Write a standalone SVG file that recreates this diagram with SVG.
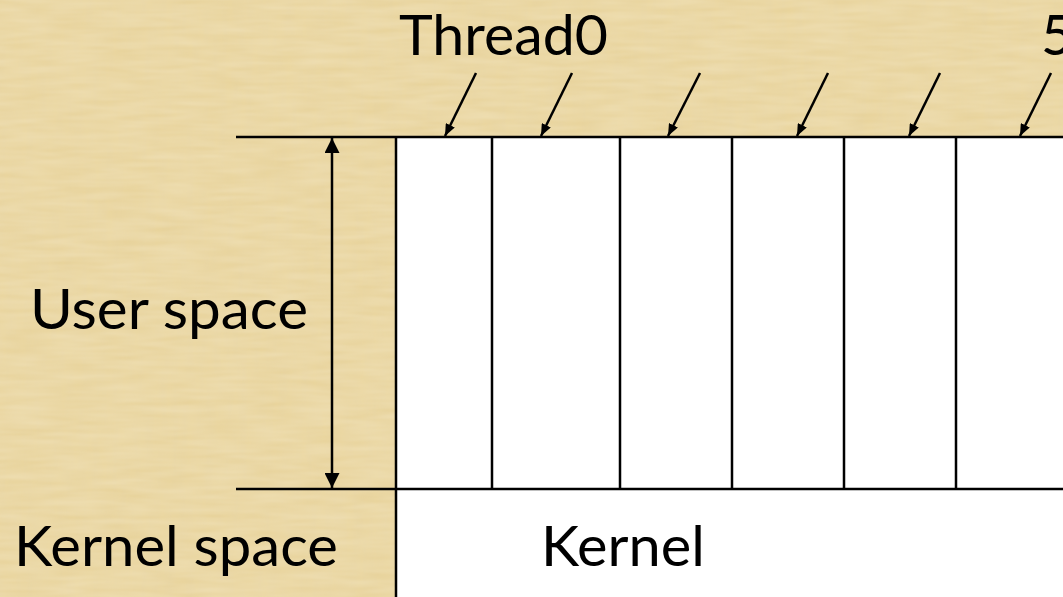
<svg xmlns="http://www.w3.org/2000/svg" width="1063" height="597" viewBox="0 0 1063 597">
<style>
.t{font-family:Lato,"Open Sans","Liberation Sans",sans-serif;font-size:56px;fill:#000}
.ln{stroke:#000;stroke-width:2.5;fill:none}
.ar{stroke:#000;stroke-width:2.5;fill:none;marker-end:url(#ah)}
</style>
<defs>
<marker id="ah" viewBox="0 0 12 10" refX="12" refY="5" markerWidth="12" markerHeight="10" markerUnits="userSpaceOnUse" orient="auto-start-reverse">
<path d="M0,0 L12,5 L0,10 Z" fill="#000"/>
</marker>
<marker id="ah2" viewBox="0 0 15 15" refX="15" refY="7.5" markerWidth="15" markerHeight="15" markerUnits="userSpaceOnUse" orient="auto-start-reverse">
<path d="M0,0 L15,7.5 L0,15 Z" fill="#000"/>
</marker>
<filter id="tex" x="0" y="0" width="100%" height="100%">
<feTurbulence type="fractalNoise" baseFrequency="0.15 0.02" numOctaves="2" seed="3" result="n1"/>
<feColorMatrix in="n1" type="matrix" values="0 0 0 0 0.75  0 0 0 0 0.62  0 0 0 0 0.35  0 0 0 0.35 -0.05" result="c1"/>
<feTurbulence type="fractalNoise" baseFrequency="0.02 0.15" numOctaves="2" seed="7" result="n2"/>
<feColorMatrix in="n2" type="matrix" values="0 0 0 0 0.98  0 0 0 0 0.92  0 0 0 0 0.75  0 0 0 0.35 -0.05" result="c2"/>
<feMerge><feMergeNode in="c1"/><feMergeNode in="c2"/></feMerge>
</filter>
</defs>
<g id="background">
<rect x="0" y="0" width="1063" height="597" fill="#E9D49C"/>
<rect x="0" y="0" width="1063" height="597" filter="url(#tex)"/>
</g>
<g id="user-area">
<rect x="396" y="137" width="667" height="352" fill="#fff"/>
</g>
<g id="kernel">
<rect x="396" y="489" width="667" height="108" fill="#fff"/>
<text class="t" x="541" y="566" textLength="164" lengthAdjust="spacingAndGlyphs">Kernel</text>
</g>
<g id="threads">
<line class="ln" x1="492" y1="137" x2="492" y2="489"/>
<line class="ln" x1="620" y1="137" x2="620" y2="489"/>
<line class="ln" x1="732" y1="137" x2="732" y2="489"/>
<line class="ln" x1="844" y1="137" x2="844" y2="489"/>
<line class="ln" x1="956" y1="137" x2="956" y2="489"/>
</g>
<g id="frame">
<line class="ln" x1="236" y1="137" x2="1063" y2="137"/>
<line class="ln" x1="236" y1="489" x2="1063" y2="489"/>
<line class="ln" x1="396" y1="137" x2="396" y2="597"/>
</g>
<g id="labels">
<text class="t" x="399" y="55" textLength="209" lengthAdjust="spacingAndGlyphs">Thread0</text>
<text class="t" x="1041" y="55">5</text>
<text class="t" x="30" y="329" textLength="278" lengthAdjust="spacingAndGlyphs">User space</text>
<text class="t" x="14" y="566" textLength="324" lengthAdjust="spacingAndGlyphs">Kernel space</text>
</g>
<g id="connectors">
<line class="ar" x1="476" y1="73" x2="445" y2="136"/>
<line class="ar" x1="572" y1="73" x2="541" y2="136"/>
<line class="ar" x1="700" y1="73" x2="668" y2="136"/>
<line class="ar" x1="828" y1="73" x2="797" y2="136"/>
<line class="ar" x1="940" y1="73" x2="909" y2="136"/>
<line class="ar" x1="1051" y1="73" x2="1020" y2="136"/>
<line x1="332" y1="138" x2="332" y2="488" stroke="#000" stroke-width="2.5" marker-start="url(#ah2)" marker-end="url(#ah2)"/>
</g>
</svg>
